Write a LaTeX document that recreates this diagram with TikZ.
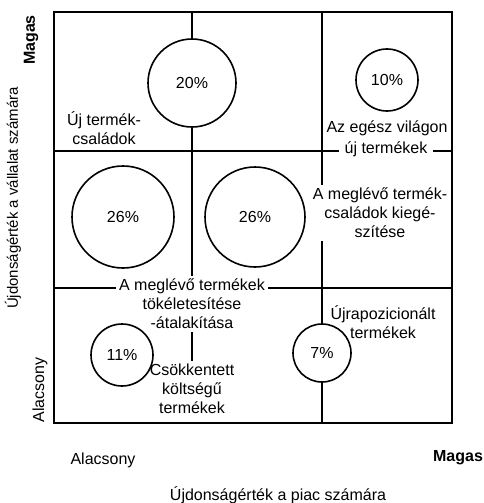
\documentclass[tikz,border=0pt]{standalone}
\usepackage{fontspec}
\setmainfont{Liberation Sans}
\begin{document}
\begin{tikzpicture}[x=1pt,y=-1pt,
  every node/.style={font=\fontsize{16}{19}\selectfont, inner sep=0pt},
  frame/.style={line width=1.8pt},
  gridline/.style={line width=1.3pt},
  ring/.style={circle, draw, line width=1.6pt, inner sep=0pt},
  lbl/.style={align=center, inner sep=3pt},
  axisb/.style={font=\fontsize{16}{19}\selectfont\bfseries},
  axisr/.style={font=\fontsize{16}{19}\selectfont}]
\useasboundingbox (0,0) rectangle (483,503);
\draw[frame] (54,12) rectangle (452,423);

% circles
\node[ring, minimum size=88pt]  (c20)  at (192,83)  {20\%};
\node[ring, minimum size=62pt]  (c10)  at (387,80)  {10\%};
\node[ring, minimum size=102pt] (c26a) at (123,217) {26\%};
\node[ring, minimum size=100pt] (c26b) at (255,217) {26\%};
\node[ring, minimum size=62pt]  (c11)  at (122,355) {11\%};
\node[ring, minimum size=58pt]  (c7)   at (322,353) {7\%};

% labels
\node[lbl] (lUj) at (104,128) {Új termék-\\családok};
\node[lbl, inner sep=0pt] (lAzA) at (387,128) {Az egész világon};
\node[lbl, inner sep=5pt] (lAzB) at (386,149) {új termékek};
\node[lbl] (lKieg) at (380,213) {A meglévő termék-\\családok kiegé-\\szítése};
\node[lbl] (lTok) at (192,304) {A meglévő termékek\\tökéletesítése\\-átalakítása};
\node[lbl] (lCsok) at (192,389) {Csökkentett\\költségű\\termékek};
\node[lbl] (lUjra) at (383,322) {Újrapozicionált\\termékek};

% grid coordinates
\coordinate (t1) at (192,12);
\coordinate (t2) at (322,12);
\coordinate (b2) at (322,423);
\coordinate (l1) at (54,151);
\coordinate (r1) at (452,151);
\coordinate (l2) at (54,288);
\coordinate (r2) at (452,288);

% grid lines
\draw[gridline] (t1) -- (c20);
\draw[gridline] (c20) -- (lTok.north -| t1);
\draw[gridline] (lTok.south -| t1) -- (lCsok.north -| t1);
\draw[gridline] (t2) -- (lKieg.north -| t2);
\draw[gridline] (lKieg.south -| t2) -- (c7);
\draw[gridline] (c7) -- (b2);
\draw[gridline] (l1) -- (lAzB.west |- l1);
\draw[gridline] (lAzB.east |- l1) -- (r1);
\draw[gridline] (l2) -- (lTok.west |- l2);
\draw[gridline] (lTok.east |- l2) -- (r2);

% axis labels
\node[axisb, rotate=90] (yHigh) at (31,40) {Magas};
\node[axisr, rotate=90] (yLow) at (40,390) {Alacsony};
\node[rotate=90, font=\fontsize{15}{18}\selectfont] (yTitle) at (13,198) {Újdonságérték a vállalat számára};
\node[axisr] (xLow) at (103,460) {Alacsony};
\node[axisb] (xHigh) at (458,458) {Magas};
\node[axisr] (xTitle) at (278,495) {Újdonságérték a piac számára};
\end{tikzpicture}
\end{document}
